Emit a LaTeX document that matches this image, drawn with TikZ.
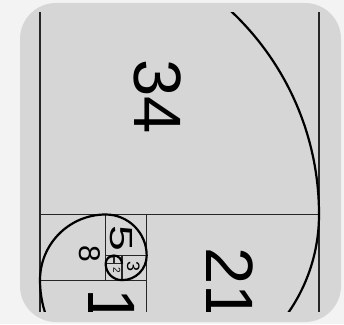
\documentclass[tikz,border=0pt]{standalone}
\usepackage{fontspec}
\setmainfont{Liberation Sans}
\definecolor{paper}{gray}{0.84}
\definecolor{page}{gray}{0.953}
\newcommand{\fsz}[1]{\fontsize{#1}{#1}\selectfont}
\tikzset{
  sq/.style={draw=black!85, line width=1.3pt},
  spiral/.style={draw=black, line width=2.2pt},
  num/.style={rotate=-90, inner sep=0pt, text=black},
}

\begin{document}
\begin{tikzpicture}[x=1pt, y=1pt]
  \useasboundingbox (0,0) rectangle (344,324);
  \fill[page] (0,0) rectangle (344,324);
  \fill[paper, rounded corners=36pt] (20,2) rectangle (341,321);
  \begin{scope}[shift={(40pt,109.5pt)}, x=8.206pt, y=8.206pt]
    \clip (-0.2,-11.88) rectangle (34.2,24.56);
    % squares: lower left corner / side
    \foreach \a/\b/\s in {0/0/34, 13/-21/21, 0/-21/13, 0/-8/8, 8/-5/5,
                          10/-8/3, 8/-8/2, 8/-6/1, 9/-6/1}
      \draw[sq] (\a,\b) rectangle ++(\s,\s);
    \draw[spiral] (0,34) arc[start angle=90, end angle=0, radius=34]
      arc[start angle=0, end angle=-90, radius=21]
      arc[start angle=-90, end angle=-180, radius=13]
      arc[start angle=180, end angle=90, radius=8]
      arc[start angle=90, end angle=0, radius=5]
      arc[start angle=0, end angle=-90, radius=3]
      arc[start angle=-90, end angle=-180, radius=2]
      arc[start angle=180, end angle=90, radius=1]
      arc[start angle=90, end angle=0, radius=1];
    \node[num, font=\fsz{67}] (n34) at (14.32,14.32) {34};
    \node[num, font=\fsz{67}] (n21) at (23.09,-8.59) {21};
    \node[num, font=\fsz{67}] (n13) at (8.77,-13.6) {13};
    \node[num, font=\fsz{30}] (n8) at (6.09,-4.84) {8};
    \node[num, xscale=1.45, font=\fsz{32}] (n5) at (9.95,-2.89) {5};
    \node[num, font=\fsz{18}] (n3) at (11.37,-6.36) {3};
    \node[num, font=\fsz{10}] (n2) at (9.38,-6.76) {2};
    \node[num, font=\fsz{5}] (n1) at (8.71,-5.3) {1};
  \end{scope}
\end{tikzpicture}
\end{document}
